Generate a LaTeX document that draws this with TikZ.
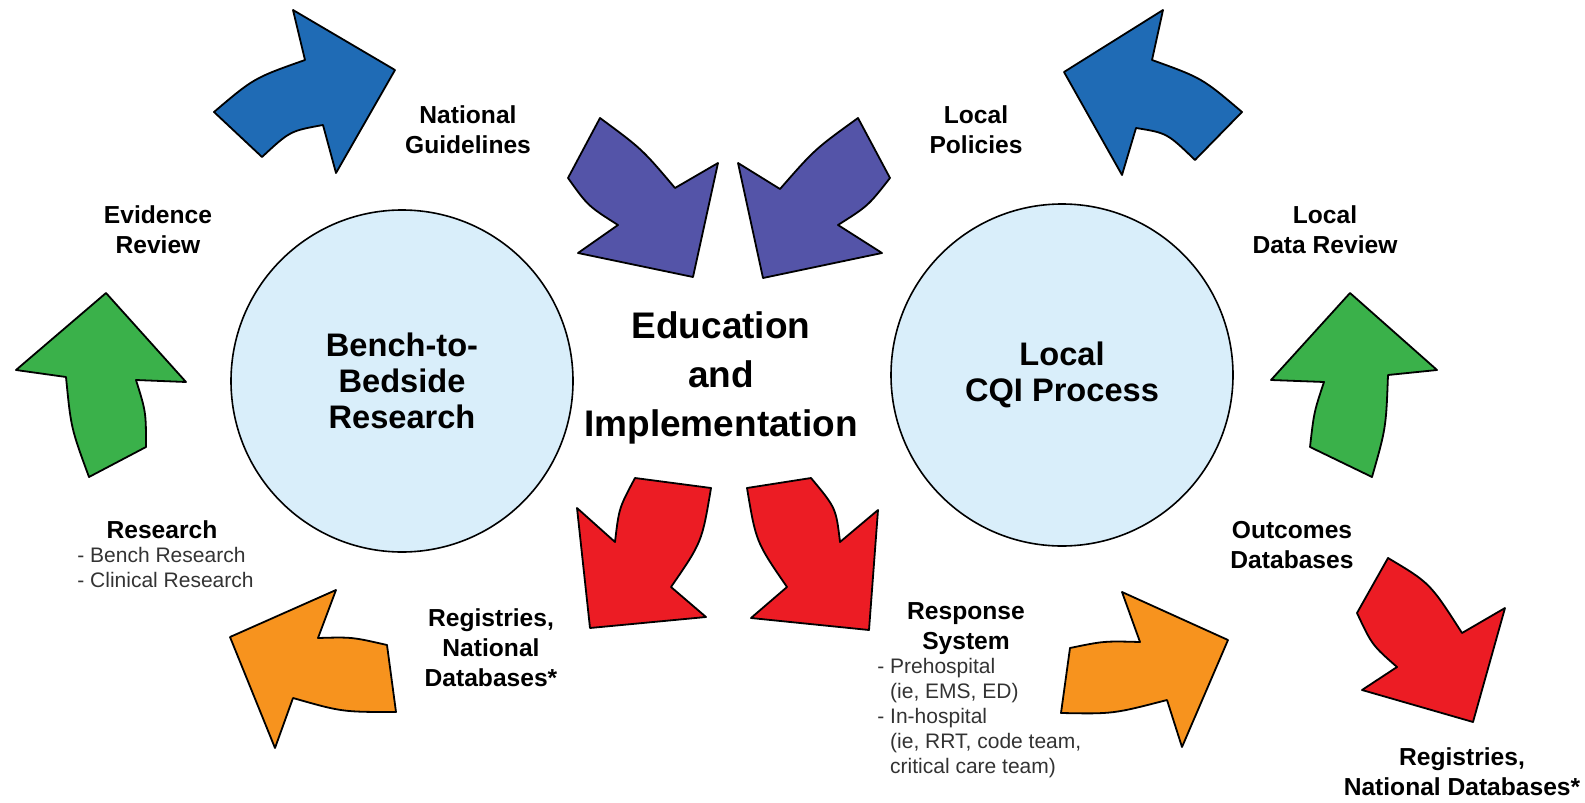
\documentclass[tikz,border=0pt]{standalone}
\usepackage{fontspec}
\setmainfont{Liberation Sans}
\usepackage{tikz}
\usetikzlibrary{positioning}

\definecolor{arrblue}{HTML}{1F6BB5}
\definecolor{arrpurple}{HTML}{5454A8}
\definecolor{arrgreen}{HTML}{3AB14A}
\definecolor{arrred}{HTML}{EC1C24}
\definecolor{arrorange}{HTML}{F7931E}
\definecolor{hubfill}{HTML}{D9EEFA}
\definecolor{notegray}{HTML}{333333}

\begin{document}
\begin{tikzpicture}[x=0.5pt,y=-0.5pt,
    blk/.style={draw=black,line width=0.9pt,line join=round,fill=#1},
    hub/.style={circle,draw=black,line width=0.8pt,fill=hubfill,minimum size=171pt,inner sep=0pt,
      align=center,font=\bfseries\fontsize{16.3}{18}\selectfont},
    lbl/.style={align=center,font=\bfseries\fontsize{12.3}{15}\selectfont},
    note/.style={align=left,text=notegray,font=\fontsize{10.5}{12.5}\selectfont,inner sep=0pt}]
    \useasboundingbox (0,0) rectangle (1585,803);
    % circles and centre text
    \node[hub] (bench) at (402,381) {Bench-to-\\Bedside\\Research};
    \node[hub] (cqi) at (1062,375) {Local\\CQI Process};
    \node[align=center,font=\bfseries\fontsize{18.5}{24.3}\selectfont] (edu) at (721,378) {Education\\and\\Implementation};
    % labels
    \node[lbl] (natguide) at (468,130) {National\\Guidelines};
    \node[lbl] (locpol) at (976,130) {Local\\Policies};
    \node[lbl] (evid) at (158,230) {Evidence\\Review};
    \node[lbl] (locdata) at (1325,230) {Local\\Data Review};
    \node[lbl] (research) at (162,530) {Research};
    \node[note,anchor=north west] (reslist) at (77,547) {- Bench Research\\- Clinical Research};
    \node[lbl] (regleft) at (491,648) {Registries,\\National\\Databases*};
    \node[lbl] (response) at (966,629) {Response\\System};
    \node[note,anchor=north west] (resplist) at (877,658)
      {- Prehospital\\\phantom{- }(ie, EMS, ED)\\- In-hospital\\\phantom{- }(ie, RRT, code team,\\\phantom{- }critical care team)};
    \node[lbl] (outcomes) at (1292,545) {Outcomes\\Databases};
    \node[lbl] (regright) at (1462,772) {Registries,\\National Databases*};
    % blue arrows
    \draw[blk=arrblue] (214,112) -- (262,157) .. controls (290,131) .. (323,125) -- (336,173) -- (395,70)
      -- (293,10) -- (305,60) .. controls (254,78) .. (214,112) -- cycle;
    \draw[blk=arrblue] (1242,112) -- (1195,160) .. controls (1167,133) .. (1136,128) -- (1122,175) -- (1064,72)
      -- (1163,10) -- (1152,60) .. controls (1202,78) .. (1242,112) -- cycle;
    % purple arrows
    \draw[blk=arrpurple] (568,178) .. controls (588,206) .. (618,225) -- (578,253) -- (693,277) -- (718,163)
      -- (675,188) .. controls (642,149) .. (600,118) -- cycle;
    \draw[blk=arrpurple] (890,178) .. controls (868,206) .. (838,225) -- (882,253) -- (763,278) -- (738,163)
      -- (780,189) .. controls (815,149) .. (858,118) -- cycle;
    % green arrows
    \draw[blk=arrgreen] (89,477) .. controls (71,428) .. (66,377) -- (16,370) -- (106,293) -- (186,382)
      -- (136,380) .. controls (146,412) .. (146,447) -- cycle;
    \draw[blk=arrgreen] (1310,447) .. controls (1314,412) .. (1324,382) -- (1271,380) -- (1350,293) -- (1437,370)
      -- (1388,375) .. controls (1386,428) .. (1372,477) -- cycle;
    % red arrows
    \draw[blk=arrred] (635,478) -- (711,488) .. controls (702,542) .. (671,587) -- (706,617) -- (590,628)
      -- (577,508) -- (615,542) .. controls (619,508) .. (635,478) -- cycle;
    \draw[blk=arrred] (811,478) -- (747,488) .. controls (756,542) .. (787,587) -- (751,618) -- (869,630)
      -- (878,510) -- (840,542) .. controls (836,508) .. (811,478) -- cycle;
    \draw[blk=arrred] (1388,558) .. controls (1430,583) .. (1462,633) -- (1505,608) -- (1473,722) -- (1362,690)
      -- (1397,667) .. controls (1372,645) .. (1357,613) -- cycle;
    % orange arrows
    \draw[blk=arrorange] (387,645) -- (396,712) .. controls (342,712) .. (293,698) -- (275,748) -- (230,637)
      -- (336,590) -- (318,638) .. controls (352,637) .. (387,645) -- cycle;
    \draw[blk=arrorange] (1070,648) -- (1061,713) .. controls (1113,714) .. (1167,700) -- (1182,747) -- (1228,640)
      -- (1122,592) -- (1140,642) .. controls (1104,641) .. (1070,648) -- cycle;
\end{tikzpicture}
\end{document}
